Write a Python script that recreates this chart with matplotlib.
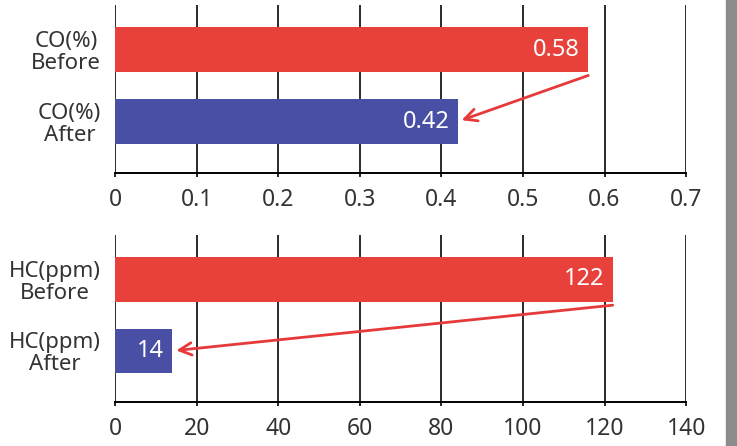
import matplotlib.pyplot as plt
from matplotlib.patches import Rectangle

# emission readings
co_labels = ['CO(%)\nAfter', 'CO(%)\nBefore']
co_values = [0.42, 0.58]
co_ticks = [0, 0.1, 0.2, 0.3, 0.4, 0.5, 0.6, 0.7]

hc_labels = ['HC(ppm)\nAfter', 'HC(ppm)\nBefore']
hc_values = [14, 122]
hc_ticks = [0, 20, 40, 60, 80, 100, 120, 140]

RED = '#e8413c'
BLUE = '#4a4fa6'
ARROW = '#e63a3a'
FONT = 'Noto Sans'


def draw_panel(ax, labels, values, ticks):
    pos = [0, 1]
    ax.barh(pos, values, height=0.625, color=[BLUE, RED], zorder=2)
    ax.set_xlim(ticks[0], ticks[-1])
    ax.set_ylim(-0.715, 1.62)
    ax.set_xticks(ticks)
    ax.set_xticklabels([f'{t:g}' for t in ticks], fontsize=16.5, color='#333333',
                       family=FONT, weight='light')
    ax.set_yticks(pos)
    ax.set_yticklabels(labels, fontsize=16, color='#333333', family=FONT,
                       weight='light', multialignment='center', linespacing=1.05)
    ax.tick_params(axis='y', length=0, pad=10)
    ax.tick_params(axis='x', length=3, width=1.2, pad=8)
    for side in ['top', 'right', 'left']:
        ax.spines[side].set_visible(False)
    ax.spines['bottom'].set_linewidth(1.4)
    ax.spines['bottom'].set_zorder(3)
    ax.grid(axis='x', color='#1a1a1a', linewidth=1.3, zorder=1)
    ax.set_axisbelow(True)

    for p, v in zip(pos, values):
        ax.annotate(f'{v:g}', xy=(v, p), xytext=(-6, 0), textcoords='offset points',
                    ha='right', va='center', color='white', fontsize=17,
                    family=FONT, weight='light', zorder=4)

    # arrow from the "before" bar to the "after" bar
    ax.annotate('', xy=(values[0], 0), xytext=(values[1], 1 - 0.36),
                arrowprops=dict(arrowstyle='->', color=ARROW, lw=2,
                                mutation_scale=22, shrinkA=0, shrinkB=3),
                zorder=5)


fig = plt.figure(figsize=(7.37, 4.46), dpi=100)
ax_co = fig.add_axes([0.156, 0.612, 0.775, 0.377])
ax_hc = fig.add_axes([0.156, 0.0987, 0.775, 0.374])

draw_panel(ax_co, co_labels, co_values, co_ticks)
draw_panel(ax_hc, hc_labels, hc_values, hc_ticks)

# grey page edge on the right
fig.patches.append(Rectangle((0.985, 0), 0.015, 1, transform=fig.transFigure,
                             color='#8c8c8c', zorder=0))

fig.savefig('out.png', dpi=100)
